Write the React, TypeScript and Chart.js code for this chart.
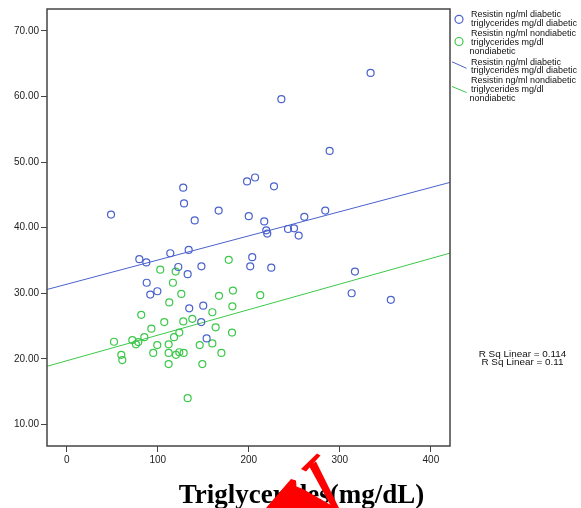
import React, { useEffect, useRef } from "react";
import { Chart, registerables } from "chart.js";

Chart.register(...registerables);

// Diabetic group: triglycerides (mg/dl) vs resistin (ng/ml)
const diabeticTG = [48.7, 128, 128.9, 140.6, 166.9, 198.1, 206.9, 200, 333.8, 235.8, 288.8, 227.7, 217, 219.2, 220.3, 243.1, 249.7, 254.8, 261, 284, 203.8, 148, 201.6, 224.7, 79.8, 87.5, 113.8, 134, 122.6, 132.9, 87.9, 91.8, 99.6, 134.6, 150, 147.8, 153.7, 316.6, 313, 356];
const diabeticRes = [42.0, 46.1, 43.7, 41.1, 42.6, 47.05, 47.65, 41.75, 63.6, 59.6, 51.7, 46.3, 40.95, 39.6, 39.1, 39.8, 39.9, 38.8, 41.65, 42.6, 35.5, 34.1, 34.1, 33.9, 35.2, 34.7, 36.1, 36.6, 34.0, 32.9, 31.6, 29.8, 30.3, 27.7, 28.1, 25.6, 23.1, 33.3, 30.0, 29.0];

// Nondiabetic group
const nondiabeticTG = [178, 167.3, 182.6, 212.6, 102.8, 119.7, 116.7, 125.9, 112.7, 81.9, 107.2, 128.1, 138, 93, 123.7, 117.9, 85.3, 72.1, 52, 76.1, 78.7, 99.5, 112, 146.1, 60, 61.1, 95.1, 112, 120, 123.7, 128.5, 112, 149, 132.9, 182, 160, 163.6, 181.6, 160, 169.9];
const nondiabeticRes = [35.1, 29.6, 30.4, 29.7, 33.6, 33.3, 31.6, 29.9, 28.6, 26.7, 25.6, 25.7, 26.1, 24.6, 24.0, 23.3, 23.3, 22.85, 22.6, 22.2, 22.55, 22.1, 22.2, 22.1, 20.6, 19.8, 20.9, 20.9, 20.6, 21.0, 20.9, 19.2, 19.2, 14.0, 28.0, 27.1, 24.8, 24.0, 22.35, 20.9];

// Linear fit lines [diabetic, nondiabetic]
const fitIntercepts = [31.37, 19.7];
const fitSlopes = [0.0369, 0.039];
const rSqLabels = ["R Sq Linear = 0.114", "R Sq Linear = 0.11"];

const xTicks = [0, 100, 200, 300, 400];
const yTicks = [10, 20, 30, 40, 50, 60, 70];
const X_MIN = -21.6;
const X_MAX = 421;
const Y_MIN = 6.7;
const Y_MAX = 73.35;

const legendEntries = [
  { kind: "circle", color: "blue", lines: ["Resistin ng/ml diabetic", "triglycerides mg/dl diabetic"] },
  { kind: "circle", color: "green", lines: ["Resistin ng/ml nondiabetic", "triglycerides mg/dl", "nondiabetic"] },
  { kind: "line", color: "blue", lines: ["Resistin ng/ml diabetic", "triglycerides mg/dl diabetic"] },
  { kind: "line", color: "green", lines: ["Resistin ng/ml nondiabetic", "triglycerides mg/dl", "nondiabetic"] },
];

const titleText = "Triglycerides(mg/dL)";

const BLUE = "#4a62cc";
const GREEN = "#3cc84a";

export default function App() {
  const ref = useRef<HTMLCanvasElement | null>(null);

  useEffect(() => {
    if (!ref.current) return;
    const toPts = (xs: number[], ys: number[]) => xs.map((x, i) => ({ x, y: ys[i] }));
    const fitLine = (k: number) => [
      { x: X_MIN, y: fitIntercepts[k] + fitSlopes[k] * X_MIN },
      { x: X_MAX, y: fitIntercepts[k] + fitSlopes[k] * X_MAX },
    ];

    const overlay = {
      id: "overlay",
      afterDraw(chart: any) {
        const ctx = chart.ctx as CanvasRenderingContext2D;
        const a = chart.chartArea;
        ctx.save();
        // frame
        ctx.strokeStyle = "#444";
        ctx.lineWidth = 1.5;
        ctx.strokeRect(a.left, a.top, a.right - a.left, a.bottom - a.top);

        // legend
        ctx.font = '9px "Liberation Sans", Arial, sans-serif';
        ctx.fillStyle = "#111";
        ctx.textBaseline = "middle";
        ctx.textAlign = "left";
        const entryY = [15, 33.7, 62.3, 81];
        legendEntries.forEach((e, i) => {
          const col = e.color === "blue" ? BLUE : GREEN;
          const y0 = entryY[i];
          if (e.kind === "circle") {
            ctx.beginPath();
            ctx.strokeStyle = col;
            ctx.lineWidth = 1.2;
            ctx.arc(459, y0 + 4.3 + (e.lines.length > 2 ? 3.5 : 0), 4, 0, Math.PI * 2);
            ctx.stroke();
          } else {
            ctx.beginPath();
            ctx.strokeStyle = col;
            ctx.lineWidth = 1;
            ctx.moveTo(452, y0 - 0.5 + (e.lines.length > 2 ? 6 : 0));
            ctx.lineTo(466.5, y0 + 6 + (e.lines.length > 2 ? 5.5 : 0));
            ctx.stroke();
          }
          ctx.fillStyle = "#111";
          e.lines.forEach((t, j) => {
            const x = j === 2 ? 469.5 : 471;
            const dy = j === 0 ? 0 : j === 1 ? 8.4 : 17.5;
            ctx.fillText(t, x, y0 + dy);
          });
        });

        // R Sq labels (slightly widened small text)
        ctx.font = '9px "Liberation Sans", Arial, sans-serif';
        ctx.textAlign = "center";
        ctx.fillStyle = "#111";
        rSqLabels.forEach((t, i) => {
          ctx.save();
          ctx.translate(522.5, 354.3 + i * 7.9);
          ctx.scale(1.1, 1);
          ctx.fillText(t, 0, 0);
          ctx.restore();
        });

        // axis title
        ctx.font = 'bold 27px "Liberation Serif", "Times New Roman", serif';
        ctx.textBaseline = "alphabetic";
        ctx.fillStyle = "#000";
        ctx.fillText(titleText, 301.5, 502.5);

        // red arrow annotation
        ctx.fillStyle = "#ff0000";
        const poly = (pts: number[][]) => {
          ctx.beginPath();
          ctx.moveTo(pts[0][0], pts[0][1]);
          for (let k = 1; k < pts.length; k++) ctx.lineTo(pts[k][0], pts[k][1]);
          ctx.closePath();
          ctx.fill();
        };
        poly([[301, 469], [317, 453.5], [320.5, 455.5], [306, 471.5]]);
        poly([[309, 466], [316, 461.5], [339, 508], [332, 508]]);
        poly([[266, 508], [291, 479], [296, 480.5], [296.5, 486.5], [303, 489], [336, 508]]);
        ctx.restore();
      },
    };

    const chart = new Chart(ref.current, {
      type: "scatter",
      data: {
        datasets: [
          {
            label: "diabetic",
            data: toPts(diabeticTG, diabeticRes),
            borderColor: BLUE,
            backgroundColor: "rgba(0,0,0,0)",
            pointRadius: 3.5,
            pointBorderWidth: 1.2,
            pointStyle: "circle",
          },
          {
            label: "nondiabetic",
            data: toPts(nondiabeticTG, nondiabeticRes),
            borderColor: GREEN,
            backgroundColor: "rgba(0,0,0,0)",
            pointRadius: 3.5,
            pointBorderWidth: 1.2,
            pointStyle: "circle",
          },
          {
            type: "line",
            label: "fit diabetic",
            data: fitLine(0),
            borderColor: BLUE,
            borderWidth: 1,
            pointRadius: 0,
            showLine: true,
            fill: false,
          } as any,
          {
            type: "line",
            label: "fit nondiabetic",
            data: fitLine(1),
            borderColor: GREEN,
            borderWidth: 1,
            pointRadius: 0,
            showLine: true,
            fill: false,
          } as any,
        ],
      },
      options: {
        animation: false,
        responsive: false,
        maintainAspectRatio: false,
        layout: { padding: { left: 0, top: 9, right: 131, bottom: 0 } },
        plugins: { legend: { display: false }, tooltip: { enabled: false } },
        scales: {
          x: {
            type: "linear",
            min: X_MIN,
            max: X_MAX,
            afterFit: (s: any) => { s.height = 62; },
            afterBuildTicks: (s: any) => { s.ticks = xTicks.map((v) => ({ value: v })); },
            ticks: {
              includeBounds: false,
              font: { size: 10, family: '"Liberation Sans", Arial, sans-serif' },
              color: "#222",
              padding: 2,
              maxRotation: 0,
              callback: (v: any) => String(v),
            },
            grid: { display: true, drawOnChartArea: false, drawTicks: true, tickLength: 6, color: "#444", tickColor: "#444" },
            border: { display: false },
          },
          y: {
            type: "linear",
            min: Y_MIN,
            max: Y_MAX,
            afterFit: (s: any) => { s.width = 47; },
            afterBuildTicks: (s: any) => { s.ticks = yTicks.map((v) => ({ value: v })); },
            ticks: {
              includeBounds: false,
              font: { size: 10, family: '"Liberation Sans", Arial, sans-serif' },
              color: "#222",
              padding: 2,
              callback: (v: any) => Number(v).toFixed(2),
            },
            grid: { display: true, drawOnChartArea: false, drawTicks: true, tickLength: 6, color: "#444", tickColor: "#444" },
            border: { display: false },
          },
        },
      },
      plugins: [overlay],
    } as any);
    return () => chart.destroy();
  }, []);

  return (
    <div style={{ position: "absolute", left: 0, top: 0, width: 581, height: 508, background: "#fff" }}>
      <canvas ref={ref} width={581} height={508} style={{ display: "block" }} />
    </div>
  );
}
